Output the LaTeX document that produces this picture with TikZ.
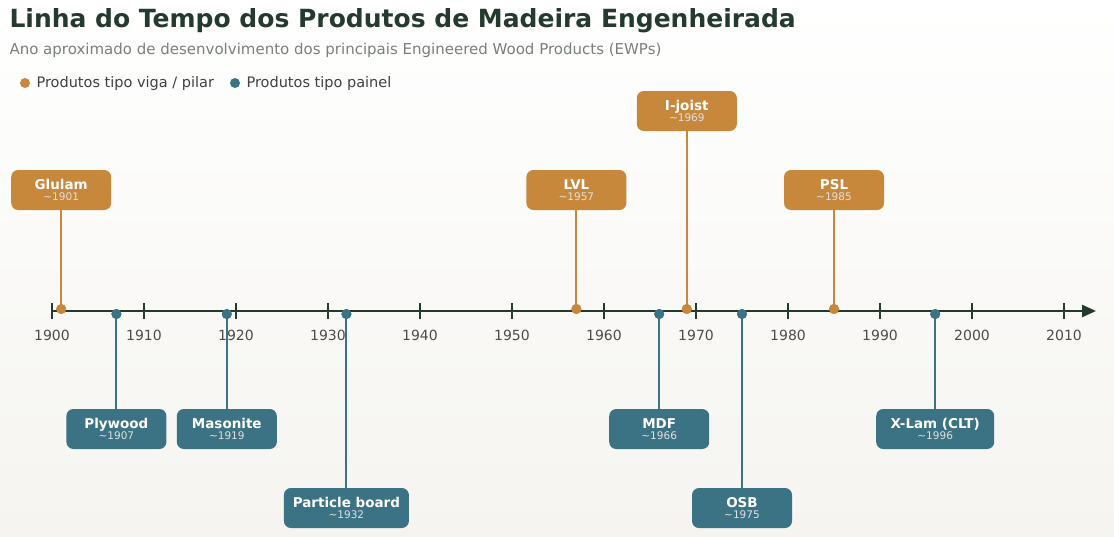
\documentclass[tikz,border=0pt]{standalone}
\usepackage{fontspec}
\setmainfont{DejaVu Sans}
\usetikzlibrary{arrows.meta}
\definecolor{beam}{HTML}{C8883C}
\definecolor{panel}{HTML}{3B7385}
\definecolor{ink}{HTML}{243A2E}
\definecolor{sub}{HTML}{788078}
\definecolor{bgb}{HTML}{F5F4F0}
\begin{document}
\begin{tikzpicture}[x=1pt,y=-1pt,
  box/.style={rounded corners=7pt,minimum height=40pt,inner sep=0pt,align=center,text=white},
  bbox/.style={box,fill=beam},pbox/.style={box,fill=panel},
  bdot/.style={circle,fill=beam,inner sep=0pt,minimum size=10pt},
  pdot/.style={circle,fill=panel,inner sep=0pt,minimum size=10pt},
  bl/.style={beam,line width=2pt},pl/.style={panel,line width=2pt},
  tk/.style={font=\fontsize{14}{16}\selectfont,text=black!70}]
\shade[top color=white,bottom color=bgb] (0,0) rectangle (1114,536);
\useasboundingbox (0,0) rectangle (1114,536);
\node[anchor=west,text=ink,font=\fontsize{25}{30}\selectfont\bfseries] (title) at (6,21) {Linha do Tempo dos Produtos de Madeira Engenheirada};
\node[anchor=west,text=sub,font=\fontsize{15}{18}\selectfont] (subt) at (6,50) {Ano aproximado de desenvolvimento dos principais Engineered Wood Products (EWPs)};
\node[bdot] (lg1) at (25,83) {};
\node[anchor=west,text=black!75,font=\fontsize{14.5}{17}\selectfont] (lg1t) at (33,83) {Produtos tipo viga / pilar};
\node[pdot] (lg2) at (235,83) {};
\node[anchor=west,text=black!75,font=\fontsize{14.5}{17}\selectfont] (lg2t) at (243,83) {Produtos tipo painel};
% axis
\coordinate (a0) at (52,311);
\coordinate (a1) at (1096,311);
\draw[ink,line width=2.5pt,-{Triangle[length=14pt,width=12pt]}] (a0) -- (a1);
\foreach \y in {1900,1910,...,2010}{
  \pgfmathsetmacro\xx{52+(\y-1900)*9.2}
  \draw[ink,line width=1.5pt] (\xx,303) -- (\xx,319);
  \node[tk] (t\y) at (\xx,335) {\y};
}
\newcommand{\ev}[7]{% name, year, boxy, style, label, yr, width
  \pgfmathsetmacro\xx{52+(#2-1900)*9.2}
  \node[#4box,minimum width=#7pt] (#1) at (\xx,#3) {\fontsize{13.5}{16}\selectfont\bfseries #5\\[-1pt]\fontsize{10.5}{12}\selectfont\mdseries\color{white!88!black}\textasciitilde#6};
}
\ev{glulam}{1901}{190}{b}{Glulam}{1901}{100}
\ev{lvl}{1957}{190}{b}{LVL}{1957}{100}
\ev{ijoist}{1969}{111}{b}{I-joist}{1969}{100}
\ev{psl}{1985}{190}{b}{PSL}{1985}{100}
\ev{plywood}{1907}{429}{p}{Plywood}{1907}{100}
\ev{masonite}{1919}{429}{p}{Masonite}{1919}{100}
\ev{particle}{1932}{508}{p}{Particle board}{1932}{125}
\ev{mdf}{1966}{429}{p}{MDF}{1966}{100}
\ev{osb}{1975}{508}{p}{OSB}{1975}{100}
\ev{xlam}{1996}{429}{p}{X-Lam (CLT)}{1996}{118}
\foreach \n/\y in {glulam/1901,lvl/1957,ijoist/1969,psl/1985}{
  \pgfmathsetmacro\xx{52+(\y-1900)*9.2}
  \node[bdot] (d\n) at (\xx,309) {};
  \draw[bl] (\n.south) -- (d\n.center);
  \node[bdot] at (\xx,309) {};
}
\foreach \n/\y in {plywood/1907,masonite/1919,particle/1932,mdf/1966,osb/1975,xlam/1996}{
  \pgfmathsetmacro\xx{52+(\y-1900)*9.2}
  \node[pdot] (d\n) at (\xx,314) {};
  \draw[pl] (\n.north) -- (d\n.center);
  \node[pdot] at (\xx,314) {};
}
\end{tikzpicture}
\end{document}
